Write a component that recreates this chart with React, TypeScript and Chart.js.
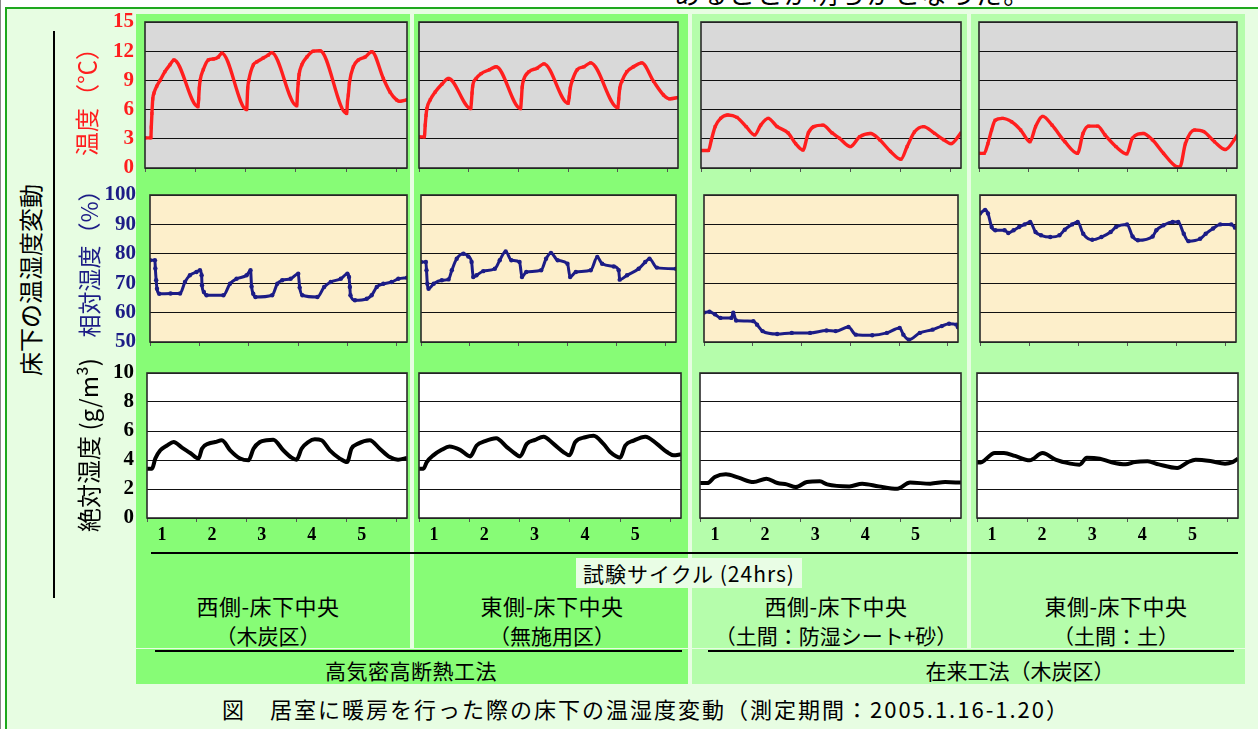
import React, { useEffect, useRef } from "react";
import { Chart, registerables } from "chart.js";

Chart.register(...registerables);

// ---------- data (hour, value) ----------
const dayTicks = [0, 24, 48, 72, 96, 120];
const cycleLabels = ["1", "2", "3", "4", "5"];
const tempTicks = [0, 3, 6, 9, 12, 15];
const rhTicks = [50, 60, 70, 80, 90, 100];
const ahTicks = [0, 2, 4, 6, 8, 10];

type Pt = [number, number];

const tempWestCharcoal: Pt[] = [[0,3.1],[2.8,3.1],[3.0,4.2],[3.3,5.6],[3.7,7.1],[4.3,7.7],[5.6,8.4],[7.2,9.0],[9.5,9.9],[11.9,10.6],[13.8,11.1],[25.3,6.3],[25.6,7.1],[25.9,8.2],[26.3,9.0],[27.8,10.1],[30.2,11.1],[32.6,11.2],[35.0,11.4],[36.6,11.8],[48.5,6.0],[49.0,8.2],[49.5,9.0],[51.7,10.6],[53.3,10.9],[56.4,11.3],[58.8,11.6],[60.4,11.85],[72.4,6.4],[72.8,7.9],[73.1,8.7],[73.5,9.6],[74.8,10.6],[77.2,11.4],[80.3,12.0],[83.5,12.05],[96.2,5.6],[96.6,6.8],[97.0,7.5],[97.5,8.7],[99.4,10.4],[101.8,11.1],[105,11.4],[108.2,11.95],[113.7,9.2],[116.9,7.8],[120,7.0],[121.6,6.85],[125,7.0]];
const tempEastPlain: Pt[] = [[0,3.2],[2.6,3.2],[3.0,4.4],[3.4,5.4],[3.8,6.1],[5.4,7.0],[7.8,7.8],[11,8.6],[14.2,9.2],[25,6.1],[25.3,6.8],[25.6,7.7],[25.9,8.4],[27.6,9.2],[30,9.7],[34,10.1],[37.2,10.4],[49,6.1],[49.4,7.0],[49.8,8.3],[50.4,9.0],[53.1,9.9],[57,10.25],[60.3,10.7],[72,6.65],[72.5,7.3],[73,8.2],[74,9.0],[76.4,10.1],[79.6,10.4],[82.8,10.8],[96,6.2],[96.4,7.1],[96.9,8.2],[97.9,8.9],[100.3,9.9],[103.5,10.4],[107.5,10.8],[113.2,8.9],[118,7.5],[121,7.1],[125,7.25]];
const tempWestSheet: Pt[] = [[0,1.8],[3.6,1.8],[5,2.9],[6.8,4.25],[9.4,5.1],[12.9,5.45],[17.3,5.2],[21.7,4.25],[25.8,3.4],[28.7,4.4],[32.3,5.1],[36.6,4.25],[41.9,3.6],[45.5,2.5],[49,1.85],[51.6,3.6],[54.2,4.25],[58.6,4.4],[63,3.6],[66.6,3.05],[71.8,2.2],[76.2,3.2],[81.5,3.55],[85.9,2.9],[91.1,1.7],[96.1,0.9],[99.1,2.2],[102.6,3.7],[107,4.25],[112.3,3.55],[116.7,2.9],[120.2,2.5],[125,3.6]];
const tempEastSoil: Pt[] = [[0,1.5],[2.5,1.5],[4.3,2.5],[6.1,3.9],[7.8,4.9],[11.4,5.1],[15.8,4.75],[20.2,3.9],[24.7,2.7],[27.4,4.25],[30.9,5.3],[35.4,4.4],[41.6,2.7],[47.7,1.5],[50.4,3.55],[53.1,4.3],[57.5,4.3],[61,3.4],[66.3,2.2],[71.6,1.45],[74.3,3.05],[79.6,3.55],[84,2.9],[89.4,1.5],[95.6,0.15],[97.3,0.1],[100,2.5],[104.4,3.9],[108.8,3.75],[114.1,2.7],[119.4,1.9],[125,3.3]];

const rhWestCharcoal: Pt[] = [[0,77.8],[2.4,77.8],[2.6,75],[3.0,71],[3.4,68.1],[4.5,66.4],[10,66.5],[14.6,66.5],[17,70.4],[19.4,72.7],[22.6,73.8],[24.3,74.4],[25.1,72.7],[25.3,69.3],[26.2,67],[27.5,65.9],[35.7,65.9],[38.9,69.8],[42.1,71.5],[47,72.7],[48.9,74.4],[49.4,68.9],[50.2,66.4],[51.3,65.3],[59.4,65.9],[61.9,69.8],[64.3,71],[68.4,71.5],[72.1,73.2],[72.8,68.5],[74.1,65.9],[81.4,65.3],[84.7,68.7],[87.9,70.4],[92.8,71.5],[96,73.2],[96.8,72.1],[97.2,68.7],[97.5,65.9],[99.7,64.2],[105.4,64.7],[107.8,65.9],[110.3,68.7],[113.5,69.8],[117.5,70.4],[120.8,71.5],[125,71.9]];
const rhEastPlain: Pt[] = [[0,77.2],[2.4,77.2],[2.7,74.4],[3.1,69.8],[3.7,68.1],[6.2,69.8],[10.2,71],[13.5,71.3],[15.1,74.4],[17.5,78.3],[20.8,80],[23.2,79.1],[24.8,77.2],[25.6,72.1],[27.2,72.7],[30.5,74.1],[36.2,74.9],[38.6,77.8],[41.5,80.8],[44.3,77.8],[48.3,77.2],[49.5,72.1],[51.6,73.8],[58.9,74.4],[61.3,78.3],[63.7,80.3],[67,77.8],[71.8,76.6],[73.1,72.1],[75.9,73.8],[83.2,74.4],[86.4,78.9],[88.8,76.6],[94.5,75.7],[96.9,74.4],[97.4,71.2],[101,72.7],[106.7,74.9],[109.9,77.2],[112,78.3],[115.6,75.3],[125,74.9]];
const rhWestSheet: Pt[] = [[0,60],[2.7,60.3],[5.4,59.4],[8.1,58.2],[13.5,58.2],[14.4,60],[15.8,57.3],[24.3,57.1],[26.1,55.9],[28.8,53.7],[36,52.7],[43.2,53.1],[52.2,53.1],[60.3,53.9],[64.8,53.7],[71.1,55.1],[74.7,52.5],[82.8,52.3],[90,53.1],[96.3,54.8],[98.1,52.5],[100.8,50.8],[106.2,53.1],[112.5,54.2],[117,55.4],[120.6,56.2],[124.2,55.9],[125,55]];
const rhEastSoil: Pt[] = [[0,93.7],[2.5,94.9],[3.9,93.7],[5.7,89.1],[7.5,88],[12,88],[13.8,87.1],[16.4,88],[19.1,89.1],[21.8,90],[24.5,90.8],[27.1,87.4],[29.8,86.3],[34.3,85.7],[38.8,86.3],[41.4,88.2],[45,90],[47.7,90.8],[50.4,86.8],[54.8,84.8],[59.3,85.7],[63.8,87.4],[66.4,89.1],[71.8,90],[74.5,85.9],[77.1,84.6],[84.3,85.9],[86.1,88],[89.6,89.7],[94.1,90.8],[96.8,90.8],[99.5,86.8],[101.8,84.3],[107.5,85.1],[110.2,86.8],[113.8,88.6],[117.3,90],[122.7,90],[124.5,88.9]];

const ahWestCharcoal: Pt[] = [[0,3.4],[2.4,3.4],[4,4.1],[6.4,4.67],[9.6,5.0],[12.8,5.24],[16.8,4.85],[20.8,4.48],[24.8,4.1],[26.4,4.78],[29.6,5.13],[32.8,5.24],[36,5.36],[40,4.67],[44.8,4.1],[48.8,3.98],[51.2,4.78],[54.3,5.24],[57.5,5.36],[60.7,5.4],[65.5,4.67],[69.5,4.16],[71.9,4.02],[74.3,4.78],[77.5,5.24],[80.7,5.43],[83.9,5.36],[87.9,4.67],[92.7,4.1],[96.2,3.86],[98.3,4.78],[101.5,5.13],[107.1,5.36],[111.9,4.78],[116.7,4.2],[120.7,4.02],[125,4.14]];
const ahEastPlain: Pt[] = [[0,3.4],[2.1,3.4],[3.7,3.86],[6.8,4.32],[10.8,4.7],[14.5,4.93],[19.6,4.7],[24.4,4.25],[27.5,5.0],[31.5,5.3],[36.8,5.5],[41.9,4.89],[45.9,4.43],[48.2,4.25],[51.4,5.11],[55.4,5.39],[59.4,5.61],[64.2,5.11],[68.9,4.55],[71.8,4.32],[74.5,5.23],[79.3,5.57],[83.3,5.68],[88,5.11],[91.2,4.55],[96,4.16],[98.4,5.0],[102.4,5.34],[108,5.61],[113.5,5.11],[118.3,4.55],[121.5,4.32],[125,4.39]];
const ahWestSheet: Pt[] = [[0,2.41],[3.5,2.41],[7.1,2.83],[12.4,3.01],[18.5,2.78],[25.6,2.48],[31.8,2.71],[37.1,2.41],[41.5,2.32],[45.9,2.14],[51.2,2.48],[57.4,2.53],[60.9,2.32],[71.5,2.18],[77.7,2.37],[85.6,2.18],[94.5,2.02],[100.6,2.44],[110.3,2.37],[117.4,2.48],[125,2.44]];
const ahEastSoil: Pt[] = [[0,3.82],[2.3,3.86],[8.5,4.48],[12.9,4.48],[18.2,4.28],[25.2,3.98],[31.4,4.48],[37.6,4.02],[44.7,3.75],[49.1,3.68],[52.6,4.16],[58.8,4.09],[64.1,3.86],[71.2,3.7],[75.6,3.86],[81.7,3.91],[87,3.7],[95.9,3.45],[101.2,3.86],[104.7,4.02],[111.8,3.93],[118.8,3.75],[122.4,3.86],[125,4.09]];

// ---------- text ----------
const topText = "あることが明らかとなった。";
const sideTitle = "床下の温湿度変動";
const axisTitles = ["温度（℃）", "相対湿度（%）", "絶対湿度 (g/m³)"];
const xAxisTitle = "試験サイクル (24hrs)";
const siteNames = ["西側-床下中央", "東側-床下中央", "西側-床下中央", "東側-床下中央"];
const siteTreatments = ["（木炭区）", "（無施用区）", "（土間：防湿シート+砂）", "（土間：土）"];
const methodNames = ["高気密高断熱工法", "在来工法（木炭区）"];
const caption = "図　居室に暖房を行った際の床下の温湿度変動（測定期間：2005.1.16-1.20）";

const JP = '"Noto Sans CJK JP", "Noto Sans", sans-serif';
const SERIF = '"Liberation Serif", "DejaVu Serif", serif';
const RED = "#ff1e1e";
const NAVY = "#1c1c86";

const framePlugin = {
  id: "panelFrame",
  beforeDraw(chart: any, _a: any, opts: any) {
    const { ctx, chartArea: a } = chart;
    ctx.save();
    ctx.fillStyle = opts.color;
    ctx.fillRect(a.left, a.top, a.right - a.left, a.bottom - a.top);
    ctx.restore();
  },
  afterDraw(chart: any) {
    const { ctx, chartArea: a } = chart;
    ctx.save();
    ctx.strokeStyle = "#2a2a2a";
    ctx.lineWidth = 1.6;
    ctx.strokeRect(a.left, a.top, a.right - a.left, a.bottom - a.top);
    ctx.restore();
  },
};

type Rect = { l: number; t: number; r: number; b: number };

type PanelProps = {
  rect: Rect;
  data: Pt[];
  kind: "temp" | "rh" | "ah";
  showY: boolean;
  showX: boolean;
};

function Panel({ rect, data, kind, showY, showX }: PanelProps) {
  const ref = useRef<HTMLCanvasElement>(null);
  const padTop = 14;
  const padRight = 4;
  const canvasLeft = showY ? 92 : rect.l - 2;
  const yW = rect.l - canvasLeft;
  const xH = showX ? 34 : 14;
  const w = rect.r - canvasLeft + padRight;
  const h = padTop + (rect.b - rect.t) + xH;

  useEffect(() => {
    const cfg =
      kind === "temp"
        ? { ticks: tempTicks, color: RED, bg: "#d9d9d9", lab: RED, pad: 11, bw: 3.4, pr: 2.2, ps: "rect" }
        : kind === "rh"
        ? { ticks: rhTicks, color: NAVY, bg: "#fdefcb", lab: NAVY, pad: 14, bw: 3, pr: 2.2, ps: "circle" }
        : { ticks: ahTicks, color: "#000000", bg: "#ffffff", lab: "#000000", pad: 13, bw: 4, pr: 0, ps: "circle" };
    const yMin = cfg.ticks[0];
    const yMax = cfg.ticks[cfg.ticks.length - 1];
    const chart = new Chart(ref.current as HTMLCanvasElement, {
      type: "line",
      data: {
        datasets: [
          {
            data: data.map(([x, y]) => ({ x, y })),
            borderColor: cfg.color,
            backgroundColor: cfg.color,
            borderWidth: cfg.bw,
            pointRadius: cfg.pr,
            pointStyle: cfg.ps as any,
            pointBorderWidth: 0,
            cubicInterpolationMode: "monotone",
            fill: false,
          },
        ],
      },
      options: {
        animation: false,
        responsive: false,
        devicePixelRatio: 1,
        layout: { padding: { top: padTop, right: padRight, left: 0, bottom: 0 } },
        plugins: {
          legend: { display: false },
          tooltip: { enabled: false },
          panelFrame: { color: cfg.bg },
        } as any,
        scales: {
          x: {
            type: "linear",
            min: 0,
            max: 125,
            afterBuildTicks: (s: any) => {
              s.ticks = dayTicks.map((v) => ({ value: v }));
            },
            afterFit: (s: any) => {
              s.height = xH;
              s.paddingLeft = 0;
              s.paddingRight = 0;
            },
            grid: { drawOnChartArea: false, drawTicks: true, tickLength: 4, color: "#555", lineWidth: 1 },
            border: { display: false },
            ticks: {
              display: showX,
              autoSkip: false,
              maxRotation: 0,
              labelOffset: 15,
              padding: 3,
              color: "#000",
              font: { family: SERIF, weight: "bold", size: 18 },
              callback: (_v: any, i: number) => cycleLabels[i] ?? "",
            },
          },
          y: {
            type: "linear",
            min: yMin,
            max: yMax,
            afterBuildTicks: (s: any) => {
              s.ticks = cfg.ticks.map((v) => ({ value: v }));
            },
            afterFit: (s: any) => {
              s.width = yW;
              s.paddingTop = 0;
              s.paddingBottom = 0;
            },
            grid: { color: "#111", lineWidth: 1, drawTicks: false },
            border: { display: false },
            ticks: {
              display: showY,
              autoSkip: false,
              padding: cfg.pad,
              color: cfg.lab,
              font: { family: SERIF, weight: "bold", size: 21 },
            },
          },
        },
      } as any,
      plugins: [framePlugin],
    });
    return () => chart.destroy();
  }, []);

  return (
    <canvas
      ref={ref}
      width={w}
      height={h}
      style={{ position: "absolute", left: canvasLeft, top: rect.t - padTop, width: w, height: h }}
    />
  );
}

function Txt({ x, y, size, color = "#000", rotate = false, children, spacing = 0, weight = 400 }: any) {
  return (
    <div
      style={{
        position: "absolute",
        left: x,
        top: y,
        transform: `translate(-50%, -50%)${rotate ? " rotate(-90deg)" : ""}`,
        whiteSpace: "nowrap",
        fontFamily: JP,
        fontSize: size,
        color,
        lineHeight: 1,
        letterSpacing: spacing,
        fontWeight: weight,
      }}
    >
      {children}
    </div>
  );
}

export default function App() {
  const colBgs = [
    { x: 136, w: 274, c: "#87fc76" },
    { x: 414, w: 274, c: "#87fc76" },
    { x: 692, w: 275, c: "#b5fdab" },
    { x: 971, w: 274, c: "#b5fdab" },
  ];
  const tempRects: Rect[] = [
    { l: 145, t: 22, r: 407, b: 168 },
    { l: 417, t: 22, r: 678, b: 168 },
    { l: 699, t: 22, r: 961, b: 168 },
    { l: 977, t: 22, r: 1237, b: 168 },
  ];
  const rhRects: Rect[] = [
    { l: 150, t: 195, r: 407, b: 342 },
    { l: 419, t: 195, r: 676, b: 342 },
    { l: 702, t: 195, r: 958, b: 342 },
    { l: 978, t: 195, r: 1236, b: 342 },
  ];
  const ahRects: Rect[] = [
    { l: 147, t: 373, r: 407, b: 518 },
    { l: 419, t: 373, r: 681, b: 518 },
    { l: 700, t: 373, r: 961, b: 518 },
    { l: 977, t: 373, r: 1238, b: 518 },
  ];
  const temps = [tempWestCharcoal, tempEastPlain, tempWestSheet, tempEastSoil];
  const rhs = [rhWestCharcoal, rhEastPlain, rhWestSheet, rhEastSoil];
  const ahs = [ahWestCharcoal, ahEastPlain, ahWestSheet, ahEastSoil];
  const siteX = [268, 552, 836, 1116];

  return (
    <div style={{ position: "absolute", left: 0, top: 0, width: 1258, height: 729, overflow: "hidden", background: "#fff" }}>
      <div style={{ position: "absolute", left: 674, top: -20, fontFamily: JP, fontSize: 26, lineHeight: "26px", letterSpacing: 1.5, color: "#000", whiteSpace: "nowrap" }}>
        {topText}
      </div>
      <div style={{ position: "absolute", left: 0, top: 0, width: 1, height: 729, background: "#888" }} />
      <div style={{ position: "absolute", left: 5, top: 7, width: 1253, height: 722, background: "#1ea81e" }} />
      <div style={{ position: "absolute", left: 7, top: 9, width: 1251, height: 720, background: "#e7fde2" }} />

      {colBgs.map((c, i) => (
        <div key={"bg" + i} style={{ position: "absolute", left: c.x, top: 14, width: c.w, height: 634, background: c.c }} />
      ))}
      <div style={{ position: "absolute", left: 136, top: 649, width: 552, height: 35, background: "#87fc76" }} />
      <div style={{ position: "absolute", left: 692, top: 649, width: 553, height: 35, background: "#b5fdab" }} />

      {/* left bracket line */}
      <div style={{ position: "absolute", left: 53, top: 31, width: 2, height: 567, background: "#000" }} />
      {/* axis baseline */}
      <div style={{ position: "absolute", left: 151, top: 552, width: 1087, height: 2, background: "#000" }} />
      {/* method lines */}
      <div style={{ position: "absolute", left: 155, top: 650, width: 527, height: 2, background: "#000" }} />
      <div style={{ position: "absolute", left: 708, top: 650, width: 526, height: 2, background: "#000" }} />

      {/* x axis title box */}
      <div style={{ position: "absolute", left: 576, top: 558, width: 226, height: 30, background: "#e9fde5" }} />
      <Txt x={689} y={573} size={21} spacing={1}>{xAxisTitle}</Txt>

      {temps.map((d, i) => (
        <Panel key={"t" + i} rect={tempRects[i]} data={d} kind="temp" showY={i === 0} showX={false} />
      ))}
      {rhs.map((d, i) => (
        <Panel key={"r" + i} rect={rhRects[i]} data={d} kind="rh" showY={i === 0} showX={false} />
      ))}
      {ahs.map((d, i) => (
        <Panel key={"a" + i} rect={ahRects[i]} data={d} kind="ah" showY={i === 0} showX={true} />
      ))}

      <Txt x={30} y={280} size={24} rotate>{sideTitle}</Txt>
      <Txt x={86} y={96} size={24} rotate color={RED}>{axisTitles[0]}</Txt>
      <Txt x={88} y={258} size={23} rotate color={NAVY}>{axisTitles[1]}</Txt>
      <Txt x={88} y={445} size={24} rotate>{axisTitles[2]}</Txt>

      {siteNames.map((s, i) => (
        <Txt key={"sn" + i} x={siteX[i]} y={605} size={22} spacing={0.5}>{s}</Txt>
      ))}
      {siteTreatments.map((s, i) => (
        <Txt key={"st" + i} x={siteX[i]} y={635} size={21}>{s}</Txt>
      ))}
      <Txt x={411} y={670} size={21} spacing={0.5}>{methodNames[0]}</Txt>
      <Txt x={1020} y={670} size={21}>{methodNames[1]}</Txt>

      <Txt x={646} y={708} size={22} spacing={2}>{caption}</Txt>
    </div>
  );
}
